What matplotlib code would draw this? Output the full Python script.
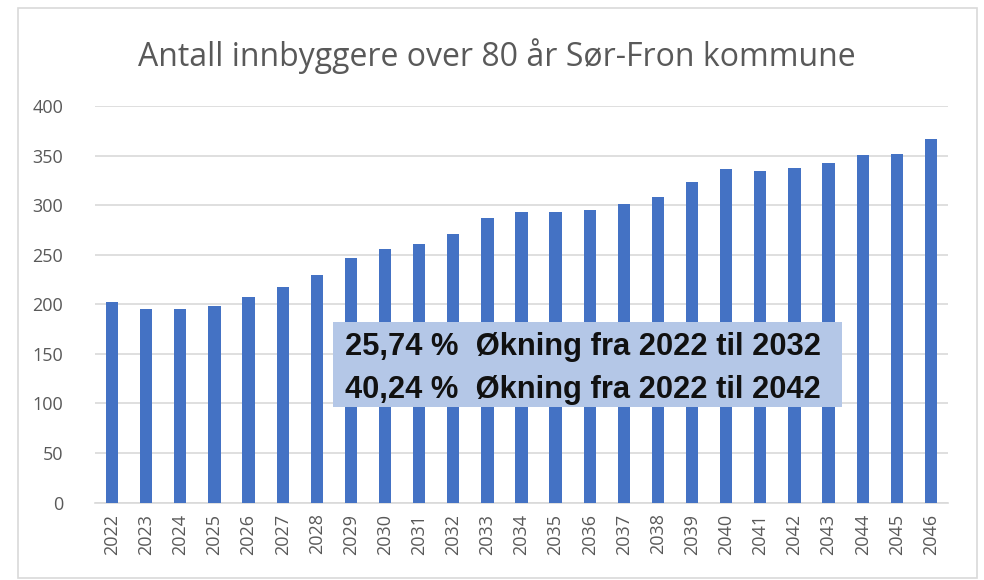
import matplotlib.pyplot as plt
from matplotlib.patches import Rectangle

# data
years = [str(y) for y in range(2022, 2047)]
innbyggere = [202, 195, 195, 198, 207, 217, 230, 247, 256, 261, 271, 287, 293,
              293, 295, 301, 308, 323, 336, 334, 337, 342, 351, 352, 367]
tittel = 'Antall innbyggere over 80 år Sør-Fron kommune'
linjer = ['25,74 %  Økning fra 2022 til 2032', '40,24 %  Økning fra 2022 til 2042']
yticks = [0, 50, 100, 150, 200, 250, 300, 350, 400]

W, H = 984, 580
fig = plt.figure(figsize=(W / 100, H / 100), dpi=100)
ax = fig.add_axes([95 / W, 1 - 502.5 / H, (948 - 95) / W, (502.5 - 106) / H])

x = range(len(years))
ax.bar(x, innbyggere, width=0.36, color='#4472C4', zorder=3)
ax.set_xlim(-0.5, len(years) - 0.5)
ax.set_ylim(0, 400)
ax.set_yticks(yticks)
ax.set_xticks(list(x))
ax.set_xticklabels(years, rotation=90)
ax.grid(axis='y', color='#D9D9D9', linewidth=1.2, zorder=0)
for s in ['top', 'right', 'left']:
    ax.spines[s].set_visible(False)
ax.spines['bottom'].set_color('#D9D9D9')
ax.spines['bottom'].set_linewidth(1.2)
ax.tick_params(length=0, colors='#595959', labelsize=13)
ax.tick_params(axis='y', pad=23)
ax.tick_params(axis='x', pad=8)
for lab in ax.get_xticklabels() + ax.get_yticklabels():
    lab.set_family('Open Sans')

# outer chart frame
fig.patches.append(Rectangle((18 / W, 1 - 578 / H), (977 - 18) / W, (578 - 8) / H,
                             transform=fig.transFigure, fill=False,
                             edgecolor='#D9D9D9', linewidth=1.2))

fig.text(497 / W, 1 - 56 / H, tittel, ha='center', va='center',
         fontsize=23, color='#595959', family='Open Sans')

# annotation box
fig.patches.append(Rectangle((333 / W, 1 - 407 / H), (842 - 333) / W, (407 - 322) / H,
                             transform=fig.transFigure, facecolor='#B4C7E7',
                             edgecolor='none', zorder=5))
for i, t in enumerate(linjer):
    fig.text(345 / W, 1 - (347 + i * 43) / H, t, ha='left', va='center',
             fontsize=22.2, fontweight='bold', color='#111111',
             family='Liberation Sans', zorder=6)

fig.savefig('out.png', dpi=100)
